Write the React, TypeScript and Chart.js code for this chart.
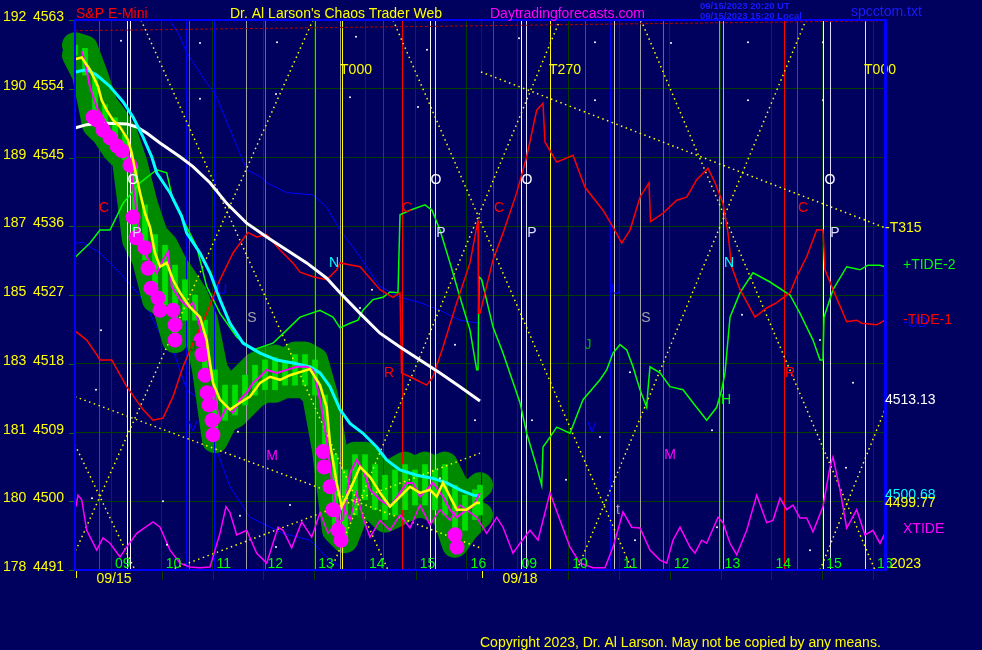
import { useEffect, useRef } from "react";
import { Chart, registerables } from "chart.js";
Chart.register(...registerables);

type Pt = [number, number];

// x = bar number from the 09/15 session start (one session = 406 bars), y = S&P E-mini price
const priceTicks = [4491, 4500, 4509, 4518, 4527, 4536, 4545, 4554, 4563];
const altTicks = ["178", "180", "181", "183", "185", "187", "189", "190", "192"];
const hourBars = [36, 86.8, 137.6, 188.4, 239.2, 290, 340.8, 391.6, 442.4, 493.2, 544, 594.8, 645.6, 696.4, 747.2, 798];
const hourLabels = ["09", "10", "11", "12", "13", "14", "15", "16", "09", "10", "11", "12", "13", "14", "15", "16"];
const dayStartBars = [0, 406];
const dayLabels = ["09/15", "09/18"];

const yellowMA: Pt[] = [[0.7,4557.9],[6.7,4558.1],[15,4556.5],[23,4554.3],[26.7,4552.5],[31.7,4551.2],[38,4549.9],[45,4549.0],[53,4547.3],[56.7,4545.6],[60,4543.4],[65,4540.4],[70,4537.7],[75,4535.9],[80,4532.5],[85,4530.7],[91.7,4531.2],[98,4529.0],[105,4527.3],[115,4525.4],[125,4524.1],[131.7,4521.1],[135,4518.1],[138,4515.5],[145,4513.3],[155,4512.0],[165,4512.9],[175,4513.7],[185,4515.5],[195,4516.3],[205,4515.9],[215,4516.5],[225,4516.9],[235,4517.3],[245,4515.2],[251.7,4512.3],[255,4507.6],[261.7,4502.4],[266.7,4499.3],[275,4501.5],[285,4504.5],[295,4503.2],[305,4501.1],[315,4499.3],[325,4500.6],[335,4501.9],[345,4501.1],[355,4501.5],[361.7,4500.6],[368,4502.4],[375,4500.6],[381.7,4498.9],[391.7,4498.9],[401.7,4499.8],[405,4499.77]];

const closeLine: Pt[] = [[6.7,4558.9],[10,4557.4],[15,4554.2],[21.7,4551.6],[35,4548.6],[48,4546.4],[55,4544.7],[56.7,4542.5],[60,4539.4],[65,4534.2],[71.7,4532.0],[81.7,4529.9],[88,4531.6],[93,4532.6],[96.7,4528.1],[105,4526.4],[113,4525.4],[118,4526.0],[125,4522.8],[131.7,4519.4],[138,4515.5],[141.7,4512.3],[145,4510.6],[151.7,4512.3],[158,4511.6],[165,4513.3],[171.7,4514.2],[178,4515.5],[185,4516.3],[191.7,4517.2],[201.7,4516.8],[211.7,4517.2],[221.7,4517.6],[231.7,4517.6],[238,4517.2],[245,4513.3],[251.7,4508.0],[258,4501.5],[263,4497.2],[268,4497.6],[275,4503.7],[281.7,4505.4],[288,4504.1],[295,4501.5],[305,4500.2],[315,4499.3],[325,4501.1],[331.7,4502.4],[338,4502.4],[345,4500.6],[351.7,4501.5],[358,4502.4],[368,4500.6],[375,4498.9],[381.7,4497.9],[391.7,4498.9],[398,4499.3],[405,4501.1]];

// [bar, low, high]
const rangeBars: [number, number, number][] = [[0,4558.4,4559.7],[10,4555.8,4559.3],[20,4549.3,4555.8],[30,4548.0,4551.9],[40,4546.0,4550.2],[50,4544.7,4548.0],[60,4534.2,4544.0],[70,4531.6,4538.8],[80,4526.4,4534.9],[90,4525.7,4533.5],[100,4521.1,4530.9],[110,4523.7,4529.0],[120,4523.7,4527.0],[130,4517.2,4523.7],[140,4508.0,4517.2],[150,4510.6,4515.2],[160,4511.3,4515.2],[170,4512.6,4516.5],[180,4513.9,4517.8],[190,4514.6,4518.5],[200,4514.6,4518.8],[210,4515.2,4518.2],[220,4515.2,4519.2],[230,4515.2,4519.2],[240,4513.9,4518.5],[250,4506.7,4513.9],[260,4496.2,4506.1],[270,4494.9,4504.1],[280,4498.2,4506.1],[290,4500.2,4506.1],[300,4498.9,4504.8],[310,4497.6,4503.4],[320,4498.2,4504.1],[330,4498.9,4504.8],[340,4499.5,4504.1],[350,4499.5,4504.8],[360,4498.9,4504.1],[370,4498.2,4504.8],[380,4494.3,4502.1],[390,4496.2,4500.8],[400,4497.6,4501.5],[405,4498.2,4502.1]];

const dotPoints: Pt[] = [[18,4550.3],[22,4549.9],[28,4548.6],[35,4547.6],[42,4546.5],[47,4545.9],[55,4544.0],[58,4537.2],[61,4534.5],[70,4533.2],[73,4530.5],[76,4527.9],[83,4526.6],[85,4525.0],[98,4525.0],[100,4523.1],[100,4521.1],[126,4521.1],[127,4519.2],[130,4516.5],[132,4514.2],[134,4512.6],[137,4510.6],[138,4508.7],[248,4506.5],[249,4504.5],[255,4501.9],[258,4498.9],[263,4496.2],[266,4494.9],[380,4495.6],[382,4494.0]];

const cyanMA: Pt[] = [[0.7,4556.2],[11.7,4556.5],[21.7,4555.8],[35,4554.3],[48,4552.3],[58,4550.3],[68,4547.7],[76.7,4545.1],[81.7,4543.0],[95,4540.4],[106.7,4537.3],[111.7,4535.1],[125,4532.5],[135,4529.9],[145,4526.4],[155,4523.3],[168,4520.7],[185,4519.4],[201.7,4518.5],[218,4518.1],[235,4517.6],[245,4516.8],[255,4515.0],[265,4512.0],[275,4510.2],[288,4508.9],[301.7,4507.1],[311.7,4505.4],[325,4504.1],[341.7,4503.4],[358,4503.0],[371.7,4502.4],[385,4501.5],[398,4500.8],[405,4500.68]];

const whiteMA: Pt[] = [[0.7,4548.9],[11.7,4549.3],[25,4549.5],[51.7,4549.4],[61.7,4549.0],[71.7,4548.2],[85,4546.9],[105,4545.1],[118,4543.8],[135,4541.7],[151.7,4539.0],[171.7,4536.4],[191.7,4534.6],[211.7,4532.9],[231.7,4531.2],[251.7,4529.2],[265,4527.3],[285,4524.6],[305,4522.0],[325,4520.2],[345,4518.5],[365,4516.8],[385,4515.0],[405,4513.13]];

const bandUpper: Pt[] = [[95,4563.0],[105,4560.8],[111.7,4558.7],[128,4555.5],[141.7,4552.9],[158,4547.7],[171.7,4543.4],[185,4542.5],[191.7,4541.7],[211.7,4540.4],[238,4540.1],[251.7,4538.5],[265,4535.5],[285,4532.0],[305,4528.1],[325,4526.7],[345,4526.0],[365,4525.0],[385,4523.7],[405,4523.3]];
const bandLower: Pt[] = [[0.7,4533.8],[8,4533.9],[25,4532.5],[45,4529.9],[68,4526.4],[85,4522.0],[98,4519.8],[111.7,4514.6],[125,4513.3],[138,4508.0],[155,4501.9],[175,4497.9],[208,4495.8],[235,4494.9],[255,4492.3],[270,4491.0]];

const tide1: Pt[] = [[1,4522.2],[11.7,4521.1],[21.7,4519.2],[25,4518.5],[36.7,4518.5],[51.7,4515.0],[68,4512.0],[78,4510.6],[88,4510.9],[98,4513.7],[108,4517.6],[118,4520.7],[131.7,4524.6],[145,4529.0],[158,4532.5],[173,4535.2],[181.7,4534.6],[191.7,4534.9],[205,4532.9],[218,4531.2],[225,4530.0],[238,4529.4],[251.7,4529.0],[261.7,4530.3],[265,4531.2],[285,4530.7],[305,4527.7],[318,4526.7],[325,4527.3],[326.5,4516.8],[335,4516.3],[351.7,4515.2],[358,4516.3],[368,4520.2],[381.7,4526.0],[395,4531.2],[403,4536.8],[403.5,4524.6],[405,4524.6],[418,4531.6],[428,4535.1],[441.7,4540.4],[451.7,4545.1],[461.7,4551.2],[468,4552.1],[470,4547.0],[481.7,4544.4],[498,4545.3],[510,4541.1],[528,4538.1],[538,4535.9],[546.7,4533.8],[555,4535.5],[565,4539.8],[574,4541.7],[575.5,4536.6],[588,4537.7],[601.7,4539.4],[611.7,4539.8],[621.7,4542.1],[633,4543.6],[640,4541.7],[648,4539.0],[653,4535.1],[656.7,4530.7],[665,4527.7],[680,4524.1],[691.7,4525.3],[701.7,4526.0],[715,4527.3],[721.7,4529.4],[731.7,4532.0],[741.7,4535.5],[748,4535.5],[750,4530.3],[758,4527.7],[771.7,4523.5],[781.7,4523.7],[786.7,4523.3],[801.7,4523.1],[810,4523.7]];

const tide2: Pt[] = [[0.7,4532.0],[15,4533.8],[25,4535.5],[35,4535.5],[48,4539.0],[65,4541.7],[81.7,4543.4],[91.7,4543.0],[98,4539.4],[111.7,4535.9],[121.7,4533.3],[131.7,4528.1],[145,4524.6],[161.7,4521.5],[178,4519.8],[198,4520.7],[211.7,4522.4],[225,4524.1],[245,4525.0],[258,4524.1],[265,4522.7],[275,4523.3],[283,4523.7],[288,4525.0],[298,4526.4],[308,4526.7],[315,4527.4],[323,4527.3],[325,4537.5],[335,4538.1],[350,4538.8],[357,4538.1],[365,4535.5],[375,4531.2],[385,4526.7],[395,4522.4],[401.7,4517.2],[403,4517.2],[404,4529.4],[406.7,4529.0],[418,4522.8],[428,4519.4],[445,4512.9],[451.7,4508.9],[461.7,4504.5],[466.7,4502.1],[468,4507.1],[475,4508.4],[481.7,4509.7],[495,4508.9],[500,4510.6],[508,4513.3],[525,4515.9],[531.7,4517.2],[538,4519.4],[545,4520.5],[551.7,4519.8],[558,4517.6],[565,4514.6],[571.7,4512.3],[573,4514.7],[575,4517.6],[585,4516.8],[595,4515.0],[608,4514.6],[618,4512.9],[631.7,4510.6],[641.7,4512.3],[646.7,4514.6],[650,4516.8],[655,4524.1],[665,4527.3],[678,4529.9],[695,4528.7],[715,4527.0],[725,4524.6],[738,4521.1],[745,4518.5],[748,4518.5],[749,4524.1],[758,4527.7],[771.7,4530.7],[785,4530.3],[793,4530.9],[805,4530.9],[810,4530.7]];

const xtide: Pt[] = [[1,4499.3],[3,4500.8],[6.7,4500.2],[11.7,4496.2],[21.7,4493.6],[28,4495.2],[35,4494.5],[45,4492.7],[51.7,4494.0],[61.7,4495.8],[78,4497.3],[85,4496.6],[95,4493.6],[105,4491.9],[115,4491.4],[125,4491.3],[135,4491.4],[145,4495.8],[151,4499.3],[155,4498.5],[161.7,4495.6],[171.7,4496.2],[181.7,4493.2],[191.7,4491.9],[203,4496.6],[208,4496.2],[216.7,4493.9],[226.7,4497.3],[236.7,4495.3],[245,4498.5],[253,4495.8],[261,4497.2],[268,4499.5],[275,4497.5],[281.7,4501.1],[288,4497.8],[295,4495.3],[305,4497.5],[315,4496.2],[325,4498.2],[335,4496.5],[345,4499.5],[355,4496.9],[365,4498.9],[375,4497.5],[385,4499.5],[401.7,4497.9],[411.7,4495.8],[421.7,4497.9],[428,4496.6],[438,4493.2],[445,4494.5],[455,4496.2],[463,4494.9],[475,4501.1],[485,4497.5],[495,4494.0],[505,4491.9],[518,4491.3],[530,4491.3],[538,4494.0],[548,4498.6],[556.7,4496.6],[565,4496.5],[575,4493.6],[585,4492.3],[591.7,4491.9],[598,4494.9],[605,4496.6],[615,4494.0],[620,4493.2],[626.7,4494.9],[631.7,4494.5],[643,4497.9],[648,4497.2],[655,4494.5],[661.7,4493.0],[671.7,4496.2],[681.7,4500.8],[691.7,4497.2],[698,4497.5],[705,4500.4],[711.7,4498.9],[718,4499.5],[725,4497.8],[731.7,4497.8],[738,4496.0],[748,4499.3],[755,4504.5],[758,4505.8],[765,4501.5],[771.7,4496.5],[781.7,4498.9],[790,4495.6],[798,4496.2],[805,4494.5],[810,4495.8]];

const topDashed: Pt[] = [[0,4561.6],[810,4562.9]];

const trendLines: [Pt, Pt][] = [
  [[66,4563],[313,4491]],
  [[238,4563],[1,4493.6]],
  [[0,4507.4],[60,4491]],
  [[0,4513.7],[405,4493.9]],
  [[95,4491],[405,4506.3]],
  [[406,4556.2],[810,4535.8]],
  [[318,4563],[557,4491]],
  [[256,4491],[485,4563]],
  [[566,4563],[800,4491]],
  [[502,4491],[731,4563]],
  [[745,4491],[810,4512.0]],
];

const stars: Pt[] = [[46,4560.3],[125,4560.0],[202,4560.1],[125,4552.7],[201,4553.3],[281,4560.8],[275,4552.9],[352,4559.1],[343,4551.6],[444,4560.6],[520,4560.1],[520,4552.5],[596,4560.0],[673,4560.1],[673,4552.5],[748,4560.1],[748,4552.5],[21,4514.6],[26,4522.4],[17,4500.4],[88,4500.0],[92,4494.3],[165,4498.1],[163,4509.1],[201,4494.0],[215,4499.5],[285,4525.3],[297,4527.7],[365,4503.0],[400,4510.6],[380,4520.5],[457,4510.6],[491,4502.8],[525,4508.4],[555,4516.9],[637,4509.3],[642,4496.6],[667,4524.4],[745,4521.1],[778,4515.5],[771,4504.4],[735,4493.6],[560,4494.9]];

const vlineBars = [24,52,55,111,114,139,171,190,240,265,267,308,327,355,360,406,418,446,451,475,510,535,539,565,588,644,648,709,722,748,755,790];
const vlineKinds = ["red","white","white","blue","green2","blue","grey","magenta","green","grey","yellow","red2","red","white","lav","blue","red","white","lav","yellow","green3","blue","grey2","grey","magenta","green","cyan","red","red","white","lav","yellow"];

// in-plot markers: [text, bar, price]
const marks: [string, number, number][] = [["C",29,4538.4],["O",58,4542.1],["P",62,4535.1],["J",118,4520.2],["V",118,4509.7],["U",147,4527.7],["S",177,4524.0],["M",197,4505.9],["N",259,4531.2],["R",314,4516.8],["C",332,4538.4],["O",361,4542.1],["P",366,4535.1],["T000",281,4556.5],["C",424,4538.4],["O",452,4542.1],["P",457,4535.1],["T270",490,4556.5],["J",513,4520.5],["V",517,4509.6],["U",541,4527.7],["S",571,4524.0],["t",543,4498.9],["M",595,4506.0],["H",651,4513.3],["N",654,4531.2],["R",715,4516.8],["C",728,4538.4],["O",755,4542.1],["P",760,4535.1],["T000",805,4556.5]];
const markKinds = ["red","white","lav","dgreen","blue","blue","grey","magenta","cyan","red","red","white","lav","yellow","red","white","lav","yellow","green2","blue","blue","grey","grey","magenta","green","cyan","red","red","white","lav","yellow"];

// right-hand end labels: [text, price, kind, indent]
const endLabels: [string, number, string, number][] = [["-T315",4535.8,"yellow",0],["+TIDE-2",4530.9,"green",18],["-UD",4523.3,"blue",18],["-TIDE-1",4523.7,"red",18],["4513.13",4513.3,"white",0],["4500.68",4500.8,"cyan",0],["4499.77",4499.8,"yellow",0],["XTIDE",4496.3,"magenta",18],["2023",4491.8,"yellow",5]];

const COLORS: Record<string, string> = {
  red: "#ff0000", red2: "#c80000", white: "#ffffff", lav: "#dcdcff", blue: "#0000ff",
  green: "#00ff00", green2: "#00b000", green3: "#008800", dgreen: "#006000", grey: "#a0a0a8", grey2: "#c8c8c8",
  magenta: "#ff00ff", yellow: "#ffff00", cyan: "#00ffff",
};
const BG = "#00005e";
const GRID = "#003c00";
const FONT = '"Liberation Sans", Arial, sans-serif';

const pts = (a: Pt[]) => a.map(([x, y]) => ({ x, y }));

function lineDs(data: Pt[], color: string, width: number, order: number, extra: any = {}) {
  return { type: "line", data: pts(data), borderColor: color, borderWidth: width, pointRadius: 0, tension: 0, fill: false, order, ...extra };
}

const bgPlugin = {
  id: "bg",
  beforeDraw(chart: any) {
    const c = chart.ctx;
    c.save();
    c.fillStyle = BG;
    c.fillRect(0, 0, chart.width, chart.height);
    c.restore();
  },
};

const vlinePlugin = {
  id: "vlines",
  afterDatasetDraw(chart: any, args: any) {
    if (args.index !== 3) return;
    const c = chart.ctx;
    const xs = chart.scales.x;
    const { top, bottom } = chart.chartArea;
    c.save();
    c.lineWidth = 1;
    vlineBars.forEach((b, i) => {
      const x = Math.round(xs.getPixelForValue(b)) + 0.5;
      c.strokeStyle = COLORS[vlineKinds[i]];
      c.beginPath();
      c.moveTo(x, top);
      c.lineTo(x, bottom);
      c.stroke();
    });
    c.restore();
  },
};

const textPlugin = {
  id: "texts",
  afterDraw(chart: any) {
    const c = chart.ctx;
    const xs = chart.scales.x;
    const ys = chart.scales.y;
    const { left, right, top, bottom } = chart.chartArea;
    c.save();
    const t = (s: string, x: number, y: number, color: string, size: number, align: any = "left", base: any = "alphabetic", bold = false) => {
      c.font = `${bold ? "bold " : ""}${size}px ${FONT}`;
      c.fillStyle = color;
      c.textAlign = align;
      c.textBaseline = base;
      c.fillText(s, x, y);
    };
    marks.forEach(([s, b, p], i) => {
      t(s, xs.getPixelForValue(b), ys.getPixelForValue(p), COLORS[markKinds[i]], 14, "center", "middle");
    });
    hourBars.forEach((b, i) => {
      t(hourLabels[i], xs.getPixelForValue(b) + 4, bottom - 2, "#00ff00", 14);
    });
    c.fillStyle = "#0000ff";
    c.fillRect(left - 1, top - 1, right - left + 2, 2);
    c.fillRect(left - 1, top - 1, 2, bottom - top + 2);
    c.fillRect(left - 1, bottom - 1, right - left + 2, 2);
    c.fillRect(right - 1, top - 1, 3, bottom - top + 2);
    priceTicks.forEach((v, i) => {
      const y = Math.round(ys.getPixelForValue(v));
      c.fillStyle = "#007000";
      c.fillRect(left - 6, y, 5, 1);
      t(altTicks[i], 3, y + 1, "#ffff00", 14);
      t(String(v), 33, y + 1, "#ffff00", 14);
    });
    hourBars.forEach((b) => {
      const x = Math.round(xs.getPixelForValue(b));
      c.fillStyle = GRID;
      c.fillRect(x, bottom + 1, 1, 9);
    });
    dayStartBars.forEach((b, i) => {
      const x = Math.round(xs.getPixelForValue(b)) + 1;
      c.fillStyle = "#ffff00";
      c.fillRect(x, bottom + 1, 1, 7);
      t(dayLabels[i], xs.getPixelForValue(b) + 39, bottom + 13, "#ffff00", 14, "center");
    });
    endLabels.forEach(([s, p, k, ind]) => {
      t(s, right + ind, ys.getPixelForValue(p), COLORS[k], 14, "left", "middle");
    });
    t("S&P E-Mini", 76, 18, "#ff0000", 14);
    t("Dr. Al Larson's Chaos Trader Web", 230, 18, "#ffff00", 14);
    t("Daytradingforecasts.com", 490, 18, "#ff00ff", 14);
    t("09/15/2023 20:20 UT", 700, 9, "#1a1aff", 9.5, "left", "alphabetic", true);
    t("09/15/2023 15:20 Local", 700, 19, "#1a1aff", 9.5, "left", "alphabetic", true);
    t("spcctom.txt", 851, 16, "#1a1aff", 14);
    t("Copyright 2023, Dr. Al Larson. May not be copied by any means.", 480, 647, "#ffff00", 14);
    c.restore();
  },
};

export default function App() {
  const ref = useRef<HTMLCanvasElement>(null);
  useEffect(() => {
    document.body.style.margin = "0";
    document.body.style.background = BG;
    const haloStyle = { borderJoinStyle: "round", borderCapStyle: "round", clip: 14 };
    const datasets: any[] = [
      lineDs(bandUpper, "#0000ff", 1, 30),
      lineDs(bandLower, "#0000ff", 1, 30),
      lineDs(rangeBars.map((r) => [r[0], r[2]] as Pt), "#008a00", 26, 29, haloStyle),
      lineDs(rangeBars.map((r) => [r[0], r[1]] as Pt), "#008a00", 26, 28, { ...haloStyle, fill: { target: 2 }, backgroundColor: "#008a00" }),
      { type: "bar", data: rangeBars.map((r) => ({ x: r[0], y: [r[1], r[2]] })), backgroundColor: "#00e000", barThickness: 5, order: 27 },
      ...trendLines.map((l) => lineDs(l, "#ffff00", 1.5, 26, { borderDash: [1.5, 3.5] })),
      lineDs(topDashed, "#b00000", 1, 26, { borderDash: [3, 2] }),
      lineDs(tide1, "#ff0000", 1.5, 25),
      lineDs(tide2, "#00ff00", 1.5, 25),
      lineDs(xtide, "#ff00ff", 1.5, 24),
      lineDs(whiteMA, "#ffffff", 3, 23),
      lineDs(cyanMA, "#00ffff", 3, 22),
      lineDs(closeLine, "#ff00ff", 2, 21),
      { type: "line", data: pts(dotPoints), showLine: false, pointRadius: 7.5, pointBackgroundColor: "#ff00ff", pointBorderWidth: 0, order: 20, clip: 10 },
      lineDs(yellowMA, "#ffff00", 2.5, 19),
      { type: "line", data: pts(stars), showLine: false, pointRadius: 1, pointBackgroundColor: "#ffffff", pointBorderWidth: 0, order: 18 },
    ];
    const chart = new Chart(ref.current!, {
      type: "line",
      data: { datasets },
      options: {
        responsive: false,
        animation: false,
        devicePixelRatio: 1,
        layout: { padding: { left: 75, right: 97, top: 20, bottom: 80 } },
        plugins: { legend: { display: false }, tooltip: { enabled: false }, title: { display: false } },
        scales: {
          x: {
            type: "linear", min: 0, max: 810, offset: false,
            afterBuildTicks: (s: any) => { s.ticks = hourBars.map((v) => ({ value: v })); },
            ticks: { display: false }, grid: { color: GRID, drawTicks: false, offset: false }, border: { display: false },
          },
          y: {
            type: "linear", min: 4491, max: 4563, beginAtZero: false,
            afterBuildTicks: (s: any) => { s.ticks = priceTicks.map((v) => ({ value: v })); },
            ticks: { display: false }, grid: { color: GRID, drawTicks: false }, border: { display: false },
          },
        },
      } as any,
      plugins: [bgPlugin, vlinePlugin, textPlugin],
    } as any);
    return () => chart.destroy();
  }, []);
  return (
    <div style={{ width: 982, height: 650, background: BG }}>
      <canvas ref={ref} width={982} height={650} style={{ display: "block" }} />
    </div>
  );
}
